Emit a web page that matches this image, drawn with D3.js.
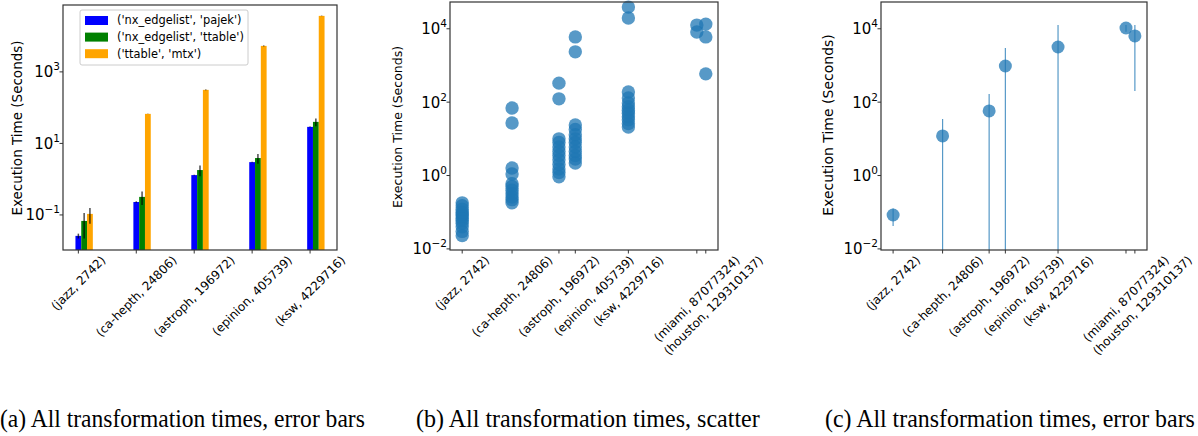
<!DOCTYPE html>
<html>
<head>
<meta charset="utf-8">
<script src="https://cdn.jsdelivr.net/npm/d3@7"></script>
<style>
  body { margin: 0; background: #fff; }
  text { font-family: "DejaVu Sans", sans-serif; fill: #000; }
  .caption { font-family: "Liberation Serif", "Times New Roman", serif; }
</style>
</head>
<body>
<svg id="fig" width="1198" height="436"></svg>
<script>
// graphs and their edge counts
var datasets = ['jazz', 'ca-hepth', 'astroph', 'epinion', 'ksw', 'miami', 'houston'];
var edges = [2742, 24806, 196972, 405739, 4229716, 87077324, 129310137];
// where the tick labels of (b) and (c) sit on the log axis
var tickEdges = [2742, 24806, 196972, 920000, 4229716, 87077324, 181000000];

// (a) bar chart, first five graphs
var seriesNames = ["('nx_edgelist', 'pajek')", "('nx_edgelist', 'ttable')", "('ttable', 'mtx')"];
var seriesColors = ['#0000ff', '#008000', '#ffa500'];
var pajekTimes = [0.026, 0.23, 1.3, 3.0, 29];
var pajekErr = [0.004, 0.01, 0.03, 0.05, 0.6];
var ttableTimes = [0.068, 0.32, 1.8, 3.9, 40];
var ttableErr = [0.046, 0.13, 0.6, 1.2, 10];
var mtxTimes = [0.107, 67, 314, 5330, 36800];
var mtxErr = [0.05, 1, 8, 150, 500];

// (b) every run, per graph
var scatterTimes = [
    [0.023, 0.03, 0.04, 0.05, 0.06, 0.07, 0.08, 0.09, 0.1, 0.12, 0.15, 0.18],
    [69, 27, 1.6, 1.1, 0.6, 0.5, 0.4, 0.32, 0.26, 0.22, 0.18],
    [330, 123, 10, 8, 6, 4.5, 3.5, 2.7, 2, 1.5, 1.2, 0.92],
    [6000, 2350, 24, 18, 13, 10, 8, 6, 4.5, 3.5, 2.8, 2.2],
    [39000, 19700, 190, 130, 95, 75, 60, 50, 40, 33, 26, 21],
    [12600, 8200],
    [13400, 6000, 590]
];

// (c) mean and std per graph
var meanTimes = [0.084, 12, 57.5, 968, 3190, 10500, 6400];
var stdTimes = [0.042, 22.8, 110, 2030, 9500, 2200, 6200];

var captions = ['(a) All transformation times, error bars',
    '(b) All transformation times, scatter',
    '(c) All transformation times, error bars'];

var yTitle = 'Execution Time (Seconds)';
var pointColor = '#1f77b4';

var svg = d3.select('#fig');
svg.append('rect').attr('width', 1198).attr('height', 436).attr('fill', '#fff');

function tickLabel(lab, i) {
    return '(' + lab + ', ' + edges[i] + ')';
}

function drawFrame(g, x0, x1, y0, y1) {
    g.append('rect')
        .attr('x', x0).attr('y', y0)
        .attr('width', x1 - x0).attr('height', y1 - y0)
        .attr('fill', 'none').attr('stroke', '#333').attr('stroke-width', 1.2);
}

function yAxis(g, y, exps, left) {
    exps.forEach(function (e) {
        var yy = y(Math.pow(10, e));
        g.append('line').attr('x1', left - 3.5).attr('x2', left)
            .attr('y1', yy).attr('y2', yy).attr('stroke', '#333');
        var t = g.append('text').attr('text-anchor', 'end')
            .attr('x', left - 3).attr('y', yy + 5.5).attr('font-size', 15);
        t.append('tspan').text('10');
        t.append('tspan').attr('font-size', 10.5).attr('dy', -7)
            .text(e < 0 ? '\u2212' + (-e) : String(e));
    });
}

// ticks at tickXs, labels rotated 45deg and centred on labelXs (matplotlib ha=center)
function xAxis(g, tickXs, labelXs, labels, bottom, fs) {
    labels.forEach(function (lab, i) {
        g.append('line').attr('x1', tickXs[i]).attr('x2', tickXs[i])
            .attr('y1', bottom).attr('y2', bottom + 3.5).attr('stroke', '#333');
        var t = g.append('text').attr('text-anchor', 'end')
            .attr('font-size', fs).text(lab);
        var w = t.node().getComputedTextLength();
        var a = 0.93 * fs, d = 0.24 * fs;
        var px = labelXs[i] + (w + a - d) / 2 * Math.SQRT1_2;
        var py = bottom + 3 + a * Math.SQRT1_2;
        t.attr('transform', 'translate(' + px + ',' + py + ') rotate(-45)');
    });
}

function yLabel(g, x, y, fs) {
    g.append('text').attr('text-anchor', 'middle')
        .attr('transform', 'translate(' + x + ',' + y + ') rotate(-90)')
        .attr('dy', '0.35em').attr('font-size', fs).text(yTitle);
}

// ---------- (a) ----------
var ga = svg.append('g');
var ax = d3.scaleLinear().domain([-0.265, 4.465]).range([63, 337]);
var ay = d3.scaleLog().domain([Math.pow(10, -1.98), Math.pow(10, 4.87)]).range([250, 5]);
var barW = ax(0.1) - ax(0);
var allTimes = [pajekTimes, ttableTimes, mtxTimes];
var allErr = [pajekErr, ttableErr, mtxErr];

allTimes.forEach(function (vals, s) {
    vals.forEach(function (v, i) {
        var cx = ax(i + s * 0.1);
        ga.append('rect')
            .attr('x', cx - barW / 2).attr('y', ay(v))
            .attr('width', barW).attr('height', 250 - ay(v))
            .attr('fill', seriesColors[s]);
    });
});
allTimes.forEach(function (vals, s) {
    vals.forEach(function (v, i) {
        var cx = ax(i + s * 0.1);
        var e = allErr[s][i];
        var lo = v - e > 0 ? Math.min(ay(v - e), 250) : 250;
        ga.append('line')
            .attr('x1', cx).attr('x2', cx)
            .attr('y1', ay(v + e)).attr('y2', lo)
            .attr('stroke', '#000').attr('stroke-opacity', 0.7).attr('stroke-width', 1.5);
    });
});
drawFrame(ga, 63, 337, 5, 250);
yAxis(ga, ay, [-1, 1, 3], 63);
var aTicks = d3.range(5).map(function (i) { return ax(i); });
xAxis(ga, aTicks, aTicks, datasets.slice(0, 5).map(tickLabel), 250, 12);
yLabel(ga, 17, 128, 13.5);

// legend
var leg = ga.append('g');
leg.append('rect').attr('x', 80).attr('y', 10).attr('width', 168).attr('height', 55)
    .attr('rx', 2).attr('fill', '#fff').attr('stroke', '#ccc');
seriesNames.forEach(function (name, s) {
    var yy = 20.5 + s * 16.6;
    leg.append('rect').attr('x', 85).attr('y', yy - 4.5).attr('width', 23).attr('height', 9)
        .attr('fill', seriesColors[s]);
    leg.append('text').attr('x', 117).attr('y', yy).attr('dy', '0.35em')
        .attr('font-size', 11.4).text(name);
});

// ---------- (b) ----------
var gb = svg.append('g');
var bx = d3.scaleLog().domain([Math.pow(10, 3.204), Math.pow(10, 8.346)]).range([450, 718]);
var by = d3.scaleLog().domain([Math.pow(10, -2.03), Math.pow(10, 4.73)]).range([250, 2]);
scatterTimes.forEach(function (vals, i) {
    gb.selectAll(null).data(vals).enter().append('circle')
        .attr('cx', bx(edges[i])).attr('cy', function (d) { return by(d); })
        .attr('r', 6.7).attr('fill', pointColor).attr('fill-opacity', 0.75);
});
drawFrame(gb, 450, 718, 2, 250);
yAxis(gb, by, [-2, 0, 2, 4], 450);
xAxis(gb, edges.map(function (e) { return bx(e); }),
    tickEdges.map(function (e) { return bx(e); }), datasets.map(tickLabel), 250, 12);
yLabel(gb, 398, 127, 12.5);

// ---------- (c) ----------
var gc = svg.append('g');
var cx = d3.scaleLog().domain([Math.pow(10, 3.204), Math.pow(10, 8.346)]).range([881, 1147]);
var cy = d3.scaleLog().domain([Math.pow(10, -2.03), Math.pow(10, 4.73)]).range([250, 2]);
meanTimes.forEach(function (m, i) {
    var s = stdTimes[i];
    var lo = m - s > 0 ? Math.min(cy(m - s), 250) : 250;
    gc.append('line')
        .attr('x1', cx(edges[i])).attr('x2', cx(edges[i]))
        .attr('y1', cy(m + s)).attr('y2', lo)
        .attr('stroke', pointColor).attr('stroke-opacity', 0.75).attr('stroke-width', 1.2);
});
gc.selectAll(null).data(meanTimes).enter().append('circle')
    .attr('cx', function (d, i) { return cx(edges[i]); })
    .attr('cy', function (d) { return cy(d); })
    .attr('r', 6.5).attr('fill', pointColor).attr('fill-opacity', 0.75);
drawFrame(gc, 881, 1147, 2, 250);
yAxis(gc, cy, [-2, 0, 2, 4], 881);
xAxis(gc, edges.map(function (e) { return cx(e); }),
    tickEdges.map(function (e) { return cx(e); }), datasets.map(tickLabel), 250, 12);
yLabel(gc, 828, 125, 14);

// ---------- captions ----------
var capX = [0, 416, 825];
var capW = [365, 344, 370];
captions.forEach(function (c, i) {
    var t = svg.append('text').attr('class', 'caption')
        .attr('font-size', 26).text(c);
    var sx = capW[i] / t.node().getComputedTextLength();
    t.attr('transform', 'translate(' + capX[i] + ',427) scale(' + sx + ',1)');
});
</script>
</body>
</html>
